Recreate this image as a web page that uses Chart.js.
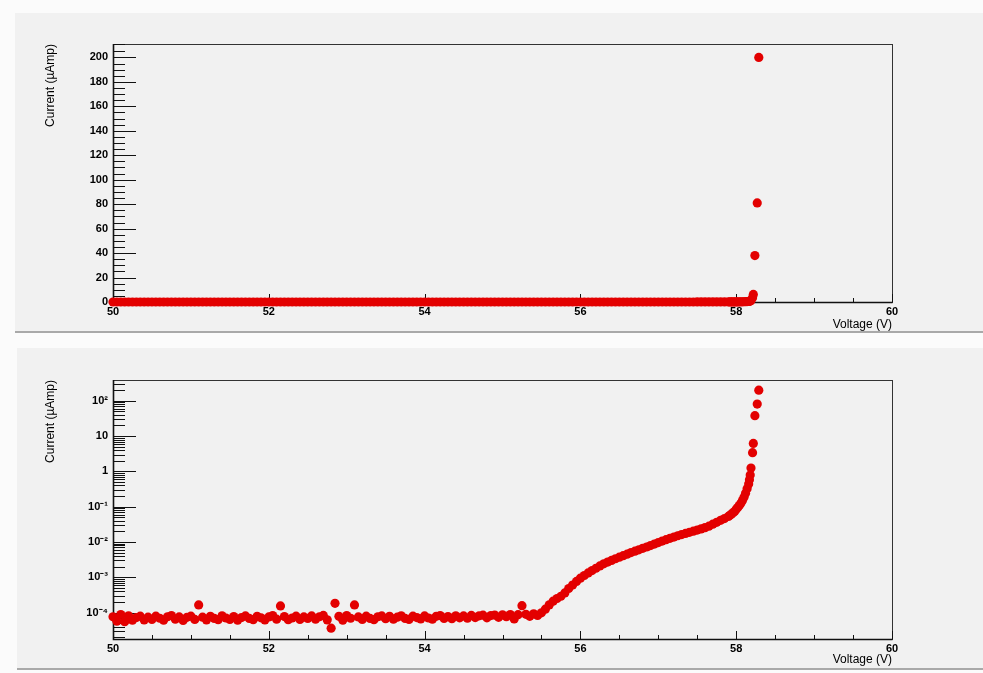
<!DOCTYPE html>
<html lang="en">
<head>
  <meta charset="UTF-8" />
  <title>IV curve</title>
  <script src="https://cdn.jsdelivr.net/npm/chart.js"></script>
  <style>
    * { box-sizing: content-box; }
    body {
      margin: 0;
      background: #fbfbfb;
      font-family: 'Liberation Sans', Arial, sans-serif;
    }
    .pad {
      position: absolute;
      background: #f1f1f1;
      border-bottom: 2px solid #a9a9a9;
    }
    #padLin { left: 15px; top: 13px; width: 968px; height: 318px; }
    #padLog { left: 17px; top: 348px; width: 966px; height: 320px; }
    canvas { position: absolute; left: 0; top: 0; }
  </style>
</head>
<body>
  <div class="pad" id="padLin"><canvas id="linChart" width="968" height="318"></canvas></div>
  <div class="pad" id="padLog"><canvas id="logChart" width="966" height="320"></canvas></div>

  <script>
    // measured points: voltage (V) and current (uA)
    const voltage = [
      50.00, 50.05, 50.10, 50.15, 50.20, 50.25, 50.30, 50.35, 50.40, 50.45,
      50.50, 50.55, 50.60, 50.65, 50.70, 50.75, 50.80, 50.85, 50.90, 50.95,
      51.00, 51.05, 51.10, 51.15, 51.20, 51.25, 51.30, 51.35, 51.40, 51.45,
      51.50, 51.55, 51.60, 51.65, 51.70, 51.75, 51.80, 51.85, 51.90, 51.95,
      52.00, 52.05, 52.10, 52.15, 52.20, 52.25, 52.30, 52.35, 52.40, 52.45,
      52.50, 52.55, 52.60, 52.65, 52.70, 52.75, 52.80, 52.85, 52.90, 52.95,
      53.00, 53.05, 53.10, 53.15, 53.20, 53.25, 53.30, 53.35, 53.40, 53.45,
      53.50, 53.55, 53.60, 53.65, 53.70, 53.75, 53.80, 53.85, 53.90, 53.95,
      54.00, 54.05, 54.10, 54.15, 54.20, 54.25, 54.30, 54.35, 54.40, 54.45,
      54.50, 54.55, 54.60, 54.65, 54.70, 54.75, 54.80, 54.85, 54.90, 54.95,
      55.00, 55.05, 55.10, 55.15, 55.20, 55.25, 55.30, 55.35, 55.40, 55.45,
      55.50, 55.55, 55.60, 55.65, 55.70, 55.75, 55.80, 55.85, 55.90, 55.95,
      56.00, 56.05, 56.10, 56.15, 56.20, 56.25, 56.30, 56.35, 56.40, 56.45,
      56.50, 56.55, 56.60, 56.65, 56.70, 56.75, 56.80, 56.85, 56.90, 56.95,
      57.00, 57.05, 57.10, 57.15, 57.20, 57.25, 57.30, 57.35, 57.40, 57.45,
      57.50, 57.55, 57.60, 57.65, 57.70, 57.75, 57.80, 57.85, 57.90, 57.92,
      57.94, 57.96, 57.98, 58.00, 58.02, 58.04, 58.06, 58.08, 58.10, 58.12,
      58.14, 58.16, 58.17, 58.18, 58.19, 58.21, 58.22, 58.24, 58.27, 58.29
    ];
    const current = [
      7.6e-5, 5.7e-5, 8.8e-5, 5.5e-5, 8.1e-5, 6.1e-5, 7.2e-5, 7.9e-5, 6.2e-5, 7.4e-5,
      6.4e-5, 7.9e-5, 6.9e-5, 6.1e-5, 7.6e-5, 8.2e-5, 6.5e-5, 7.5e-5, 6.0e-5, 7.3e-5,
      7.9e-5, 6.4e-5, 1.64e-4, 7.4e-5, 6.2e-5, 7.8e-5, 6.8e-5, 6.3e-5, 8.1e-5, 7.0e-5,
      6.4e-5, 7.7e-5, 6.1e-5, 7.2e-5, 8.0e-5, 6.8e-5, 6.3e-5, 7.8e-5, 7.1e-5, 6.2e-5,
      7.5e-5, 8.2e-5, 6.5e-5, 1.54e-4, 7.7e-5, 6.3e-5, 7.0e-5, 7.9e-5, 6.4e-5, 7.5e-5,
      6.8e-5, 8.0e-5, 6.5e-5, 7.6e-5, 8.3e-5, 6.2e-5, 3.6e-5, 1.83e-4, 7.8e-5, 6.1e-5,
      8.2e-5, 6.9e-5, 1.64e-4, 7.5e-5, 6.4e-5, 7.9e-5, 6.8e-5, 6.3e-5, 7.6e-5, 8.0e-5,
      6.7e-5, 7.8e-5, 6.5e-5, 7.4e-5, 8.1e-5, 6.8e-5, 6.4e-5, 7.9e-5, 7.2e-5, 6.6e-5,
      8.0e-5, 7.0e-5, 6.5e-5, 7.8e-5, 8.2e-5, 6.8e-5, 7.7e-5, 6.7e-5, 8.1e-5, 7.1e-5,
      8.0e-5, 6.9e-5, 8.3e-5, 7.2e-5, 8.1e-5, 8.4e-5, 7.1e-5, 8.2e-5, 8.5e-5, 7.3e-5,
      8.6e-5, 7.6e-5, 8.8e-5, 6.6e-5, 8.7e-5, 1.57e-4, 8.9e-5, 7.8e-5, 9.2e-5, 8.3e-5,
      9.8e-5, 1.25e-4, 1.65e-4, 2.1e-4, 2.5e-4, 2.9e-4, 3.6e-4, 4.8e-4, 6.0e-4, 7.6e-4,
      9.4e-4, 1.12e-3, 1.33e-3, 1.55e-3, 1.8e-3, 2.1e-3, 2.4e-3, 2.7e-3, 3.0e-3, 3.35e-3,
      3.7e-3, 4.1e-3, 4.5e-3, 5.0e-3, 5.5e-3, 6.0e-3, 6.6e-3, 7.2e-3, 7.9e-3, 8.7e-3,
      9.6e-3, 1.06e-2, 1.16e-2, 1.27e-2, 1.38e-2, 1.50e-2, 1.62e-2, 1.75e-2, 1.88e-2, 2.02e-2,
      2.18e-2, 2.35e-2, 2.55e-2, 2.8e-2, 3.2e-2, 3.6e-2, 4.1e-2, 4.6e-2, 5.3e-2, 5.7e-2,
      6.2e-2, 6.7e-2, 7.3e-2, 8.5e-2, 9.5e-2, 0.108, 0.125, 0.150, 0.185, 0.24,
      0.32, 0.44, 0.58, 0.79, 1.24, 3.4, 6.2, 38, 81, 200
    ];

    // axis ranges and tick labels
    const xRange = [50, 60];
    const linRange = [0, 211];
    const logRange = [1.78e-5, 389];
    const logMajors = [1e-4, 1e-3, 1e-2, 1e-1, 1, 10, 100];
    const logLabels = ['10\u207B\u2074', '10\u207B\u00B3', '10\u207B\u00B2', '10\u207B\u00B9', '1', '10', '10\u00B2'];
    const logDecades = [1e-5, 1e-4, 1e-3, 1e-2, 1e-1, 1, 10, 100];

    const logTicks = [];
    logDecades.forEach(d => {
      for (let k = 1; k <= 9; k++) {
        const v = k * d;
        if (v >= logRange[0] && v <= logRange[1]) logTicks.push(v);
      }
    });

    Chart.defaults.font.family = "'Liberation Sans', Arial, sans-serif";
    Chart.defaults.font.size = 11;
    Chart.defaults.color = '#000';

    // ROOT style frame with ticks drawn inside it
    const rootFrame = {
      id: 'rootFrame',
      beforeDatasetsDraw(chart) {
        const { ctx, chartArea: a, scales: { x, y } } = chart;
        ctx.save();
        ctx.strokeStyle = '#333';
        ctx.lineWidth = 1;
        ctx.strokeRect(a.left + 0.5, a.top + 0.5, a.right - a.left, a.bottom - a.top);
        ctx.strokeStyle = '#111';
        ctx.beginPath();
        x.ticks.forEach(t => {
          const px = Math.round(x.getPixelForValue(t.value)) + 0.5;
          const len = t.label !== '' ? 8 : 4;
          ctx.moveTo(px, a.bottom);
          ctx.lineTo(px, a.bottom - len);
        });
        y.ticks.forEach(t => {
          const py = Math.round(y.getPixelForValue(t.value)) + 0.5;
          if (py < a.top || py > a.bottom + 1) return;
          const len = t.label !== '' ? 23 : 12;
          ctx.moveTo(a.left, py);
          ctx.lineTo(a.left + len, py);
        });
        ctx.stroke();
        ctx.lineWidth = 1.6;
        ctx.beginPath();
        ctx.moveTo(a.left + 0.5, a.top);
        ctx.lineTo(a.left + 0.5, a.bottom + 0.5);
        ctx.lineTo(a.right + 0.5, a.bottom + 0.5);
        ctx.stroke();
        ctx.restore();
      }
    };

    const points = voltage.map((v, i) => ({ x: v, y: current[i] }));

    function xScale(titlePad, height) {
      return {
        type: 'linear',
        min: xRange[0],
        max: xRange[1],
        grid: { display: false, drawTicks: false },
        border: { display: false },
        ticks: {
          stepSize: 0.5,
          autoSkip: false,
          maxRotation: 0,
          padding: 3,
          font: { weight: 'bold' },
          callback: v => (v % 2 === 0 ? String(v) : '')
        },
        title: {
          display: true,
          text: 'Voltage (V)',
          align: 'end',
          font: { size: 12 },
          padding: { top: 0, bottom: titlePad }
        },
        afterFit: s => { s.height = height; }
      };
    }

    function yTitle(pad) {
      return {
        display: true,
        text: 'Current (\u00B5Amp)',
        align: 'end',
        font: { size: 12 },
        padding: { top: pad, bottom: 0 }
      };
    }

    function makeChart(id, yOpts, xOpts, pad) {
      return new Chart(document.getElementById(id), {
        type: 'scatter',
        data: {
          datasets: [{
            data: points,
            pointRadius: 4.6,
            pointBorderWidth: 0,
            pointBackgroundColor: '#e30000',
            clip: false
          }]
        },
        options: {
          responsive: false,
          animation: false,
          layout: { padding: pad },
          plugins: { legend: { display: false }, tooltip: { enabled: false } },
          scales: { x: xOpts, y: yOpts }
        },
        plugins: [rootFrame]
      });
    }

    makeChart('linChart', {
      type: 'linear',
      min: linRange[0],
      max: linRange[1],
      grid: { display: false, drawTicks: false },
      border: { display: false },
      ticks: {
        stepSize: 5,
        autoSkip: false,
        padding: 5,
        font: { weight: 'bold' },
        callback: v => (v % 20 === 0 ? String(v) : '')
      },
      title: yTitle(28),
      afterFit: s => { s.width = 98; }
    }, xScale(-1, 29), { left: 0, right: 91, top: 31, bottom: 0 });

    makeChart('logChart', {
      type: 'logarithmic',
      min: logRange[0],
      max: logRange[1],
      grid: { display: false, drawTicks: false },
      border: { display: false },
      afterBuildTicks: s => { s.ticks = logTicks.map(v => ({ value: v })); },
      ticks: {
        autoSkip: false,
        padding: 5,
        font: { weight: 'bold' },
        callback: v => {
          const i = logMajors.findIndex(m => Math.abs(v / m - 1) < 1e-6);
          return i >= 0 ? logLabels[i] : '';
        }
      },
      title: yTitle(26),
      afterFit: s => { s.width = 96; }
    }, xScale(1, 29), { left: 0, right: 91, top: 32, bottom: 0 });
  </script>
</body>
</html>
